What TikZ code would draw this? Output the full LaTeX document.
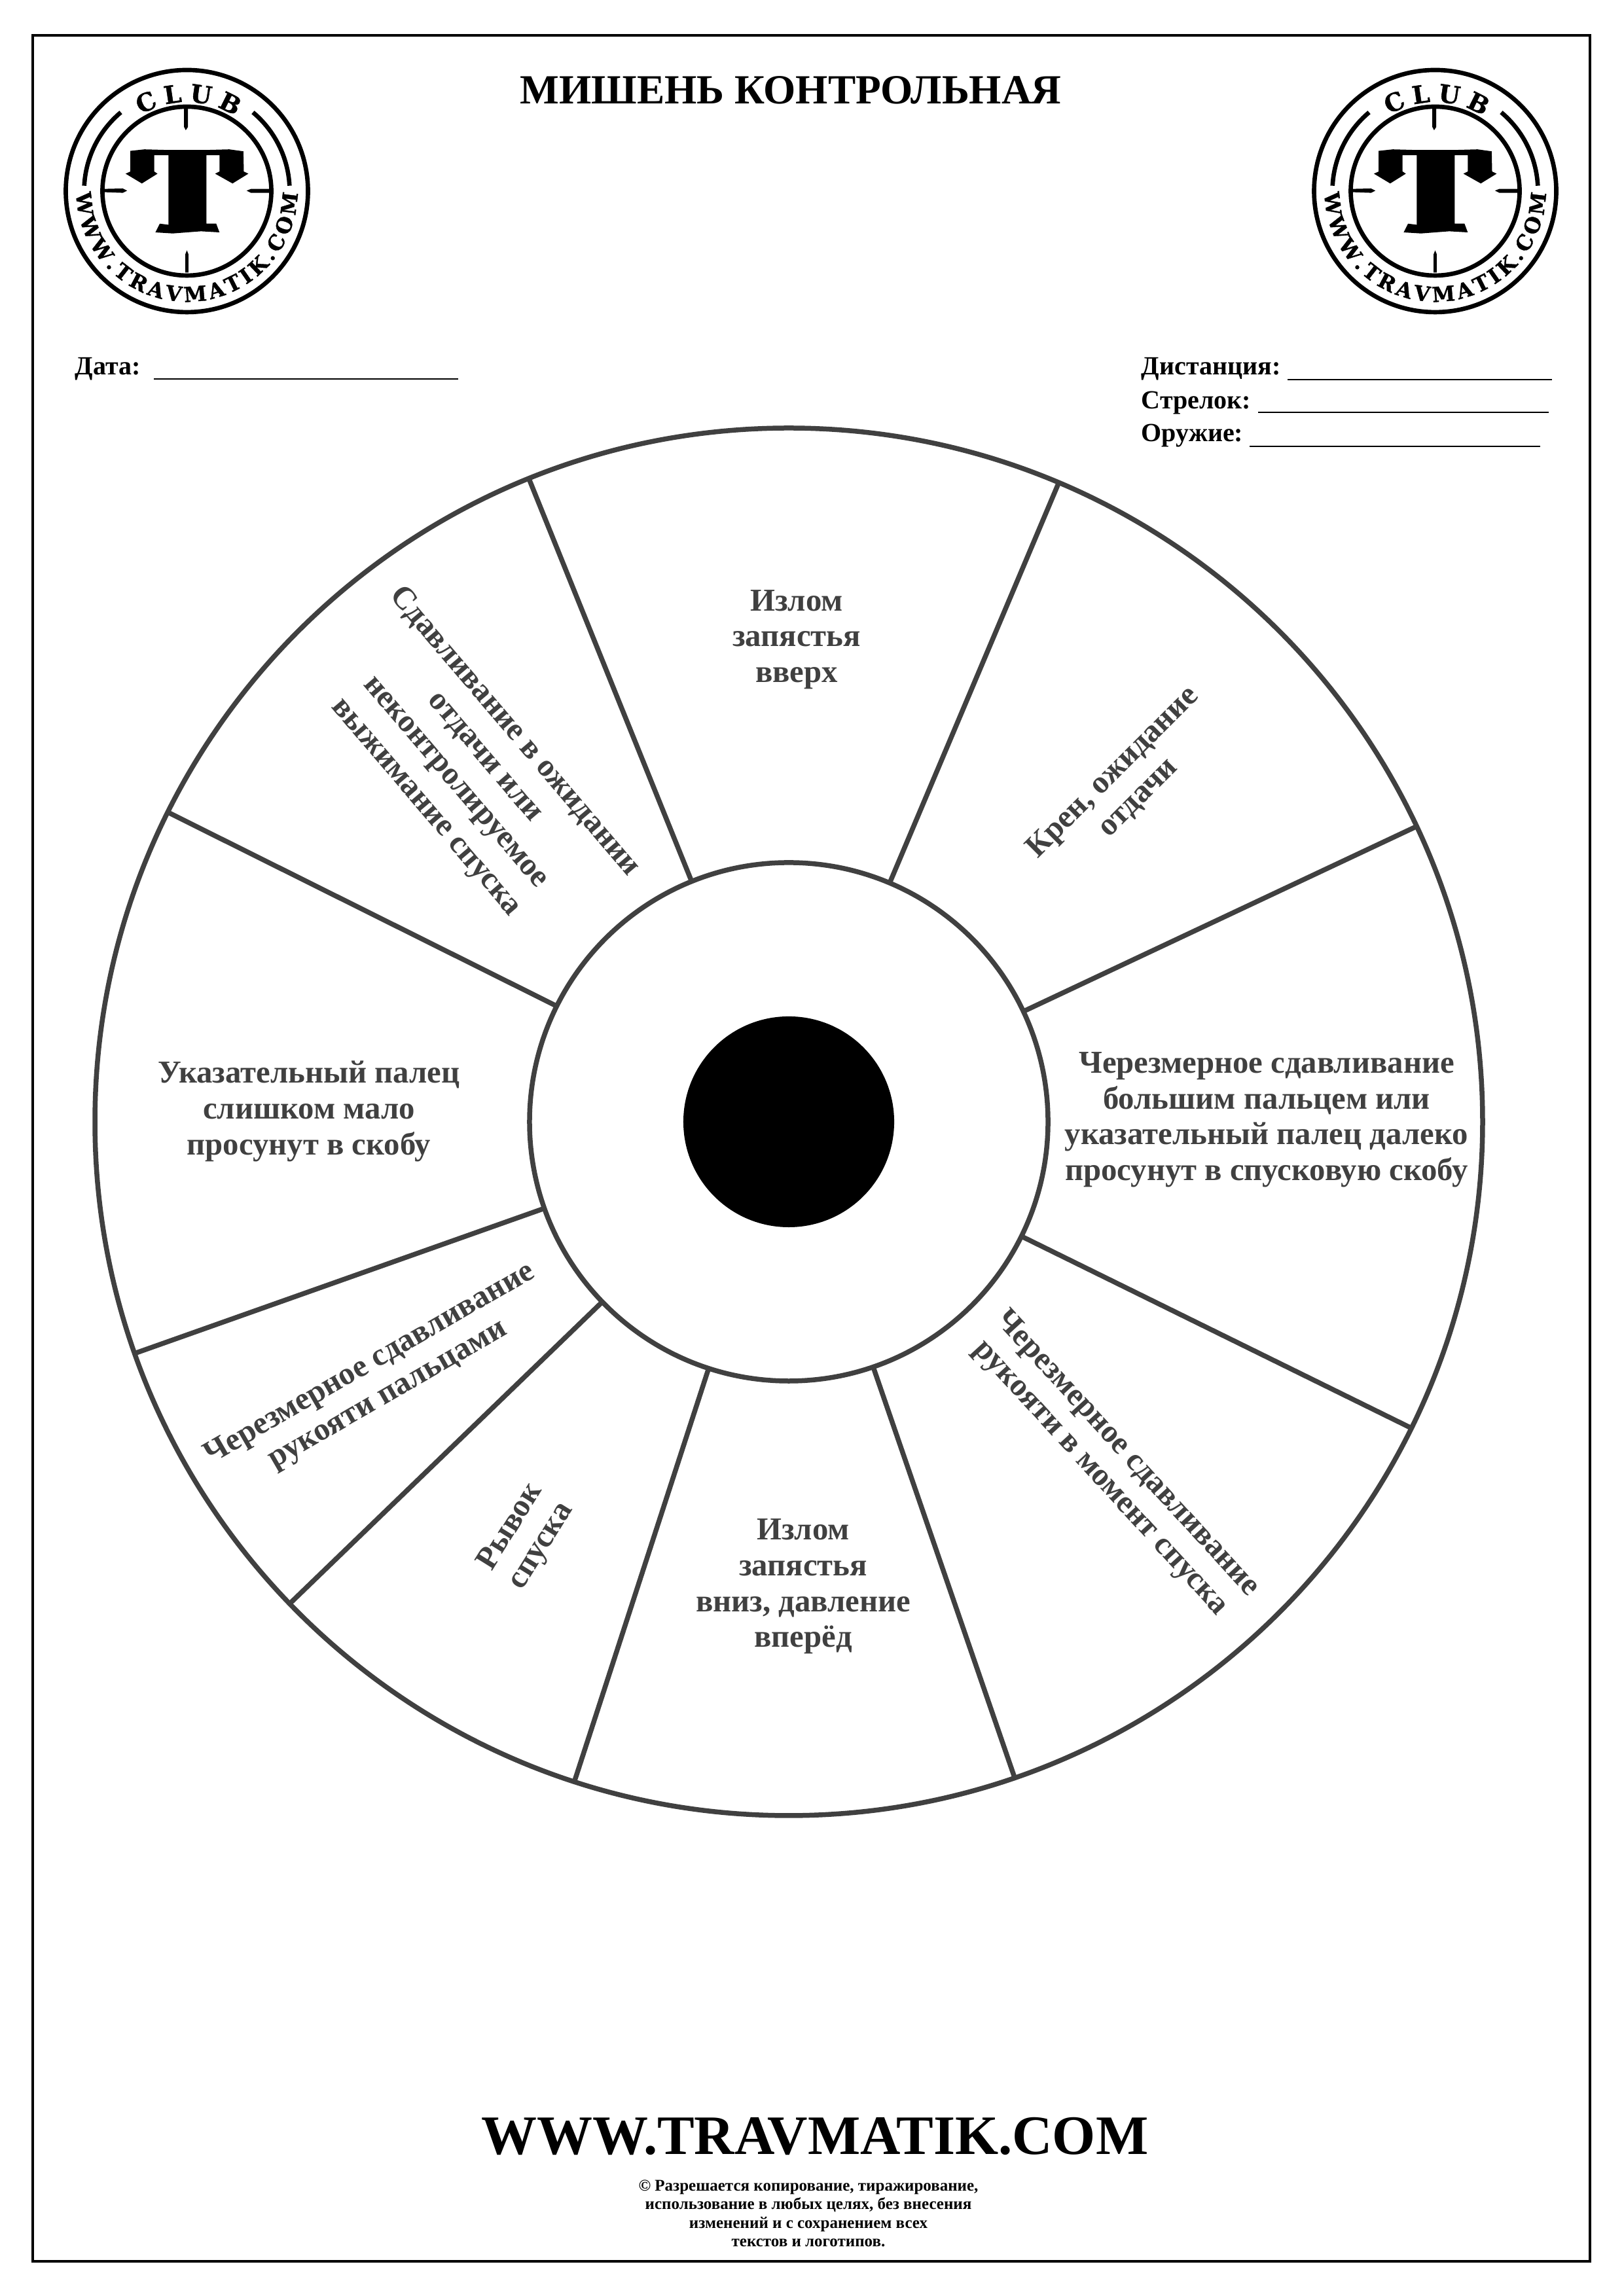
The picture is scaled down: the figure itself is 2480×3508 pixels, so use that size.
\documentclass[tikz,border=0pt]{standalone}
\usepackage{fontspec}
\setmainfont{Liberation Serif}
\newfontfamily\logofont[FakeBold=1.2]{DejaVu Serif}
\usetikzlibrary{decorations.text}

\definecolor{wheelink}{HTML}{404040}

\tikzset{
  wheelline/.style={draw=wheelink, line width=1.8pt},
  sectorlabel/.style={align=center, text=wheelink, inner sep=0pt, font=\fontsize{11.7}{13.1}\selectfont\bfseries},
  formlabel/.style={anchor=base west, inner sep=0pt, font=\fontsize{9.6}{11}\selectfont\bfseries},
  formrule/.style={line width=.65pt},
  logoring/.style={line width=1.6pt},
  logo/.pic={
    \draw[logoring] (0,0) circle[radius=185];
    \draw[logoring] (0,0) circle[radius=129];
    \draw[logoring] (130:157) arc[start angle=130, end angle=177, radius=157];
    \draw[logoring] (50:157) arc[start angle=50, end angle=3, radius=157];
    \path[decorate, decoration={text along path, text align=fit to path,
      text={|\logofont\bfseries\fontsize{9}{10}\selectfont|CLUB}}]
      (121:136) arc[start angle=121, end angle=57, radius=136];
    \path[decorate, decoration={text along path, text align=fit to path,
      text={|\logofont\bfseries\fontsize{7.6}{8}\selectfont|WWW.TRAVMATIK.COM}}]
      (181:169) arc[start angle=181, end angle=359, radius=169];
    \begin{scope}[scale=.332]
    \fill (-260,185) -- (-195,192) -- (-85,189) -- (85,189) -- (195,192) -- (260,183)
      -- (262,90) -- (283,80) -- (210,35) -- (130,80) -- (150,90) -- (150,165) -- (90,165)
      -- (90,-150) -- (135,-150) -- (150,-190) -- (65,-185) -- (-65,-195) -- (-145,-190)
      -- (-125,-150) -- (-85,-155) -- (-85,165) -- (-150,165) -- (-150,90) -- (-135,80)
      -- (-207,35) -- (-282,80) -- (-260,90) -- cycle;
    % reticle ticks
    \fill (-13,380) -- (-13,295) -- (-5,280) -- (5,295) -- (5,380) -- cycle;
    \fill (-7,-375) -- (-7,-290) -- (0,-273) -- (7,-290) -- (7,-375) -- cycle;
    \fill (-380,10) -- (-295,12) -- (-275,2) -- (-295,-8) -- (-380,-5) -- cycle;
    \fill (380,10) -- (295,10) -- (275,2) -- (295,-8) -- (380,-8) -- cycle;
    \end{scope}
  }
}

\begin{document}
\begin{tikzpicture}[x=.24pt,y=.24pt]
\useasboundingbox (0,0) rectangle (2480,3508);
\draw[line width=.96pt] (50,53) rectangle (2429,3454);

\node[font=\fontsize{15.2}{17}\selectfont\bfseries, anchor=base, inner sep=0pt] (title) at (1208,3349) {МИШЕНЬ КОНТРОЛЬНАЯ};
\pic at (285.5,3216) {logo};
\pic at (2192.5,3216) {logo};

\node[formlabel] (date) at (114,2935) {Дата:};
\draw[formrule] (235,2929) -- (700,2929);
\node[formlabel] (distance) at (1743,2935) {Дистанция:};
\draw[formrule] (1967,2928) -- (2371,2928);
\node[formlabel] (shooter) at (1743,2883) {Стрелок:};
\draw[formrule] (1922,2878) -- (2366,2878);
\node[formlabel] (weapon) at (1743,2833) {Оружие:};
\draw[formrule] (1909,2826) -- (2353,2826);

\node[circle, wheelline, minimum size=508.8pt, outer sep=0pt] (rim) at (1205,1794) {};
\node[circle, wheelline, minimum size=190.1pt, outer sep=0pt] (hub) at (1205,1794) {};
\node[circle, fill=black, minimum size=77.3pt, outer sep=0pt] (bull) at (1205,1794) {};

\foreach \a in {112,67.1,25.2,-26.2,-71,252,224,199.5,153.5}
  \draw[wheelline] ([shift={(\a:396)}]hub.center) -- ([shift={(\a:1060)}]rim.center);

\node[sectorlabel] (wristup) at (1217,2531) {Излом\\запястья\\вверх};
\node[sectorlabel, rotate=45] (heel) at (1720,2308) {Крен, ожидание\\отдачи};
\node[sectorlabel] (thumb) at (1935,1797) {Черезмерное сдавливание\\большим пальцем или\\указательный палец далеко\\просунут в спусковую скобу};
\node[sectorlabel, rotate=-47.5] (gripshot) at (1701,1268) {Черезмерное сдавливание\\рукояти в момент спуска};
\node[sectorlabel] (wristdown) at (1227,1084) {Излом\\запястья\\вниз, давление\\вперёд};
\node[sectorlabel, rotate=58] (jerk) at (804,1160) {Рывок\\спуска};
\node[sectorlabel, rotate=30] (fingers) at (579,1400) {Черезмерное сдавливание\\рукояти пальцами};
\node[sectorlabel] (finger) at (472,1810) {Указательный палец\\слишком мало\\просунут в скобу};
\node[sectorlabel, font=\fontsize{11.7}{14.2}\selectfont\bfseries, rotate=-49.6] (squeeze) at (718,2332) {Сдавливание в ожидании\\отдачи или\\неконтролируемое\\выжимание спуска};

\node[font=\fontsize{20.4}{24}\selectfont\bfseries, anchor=base, inner sep=0pt] (site) at (1245,216) {WWW.TRAVMATIK.COM};
\node[font=\fontsize{6}{6.84}\selectfont\bfseries, align=center, anchor=north, inner sep=0pt] (notice) at (1235,178) {© Разрешается копирование, тиражирование,\\использование в любых целях, без внесения\\изменений и с сохранением всех\\текстов и логотипов.};
\end{tikzpicture}
\end{document}
